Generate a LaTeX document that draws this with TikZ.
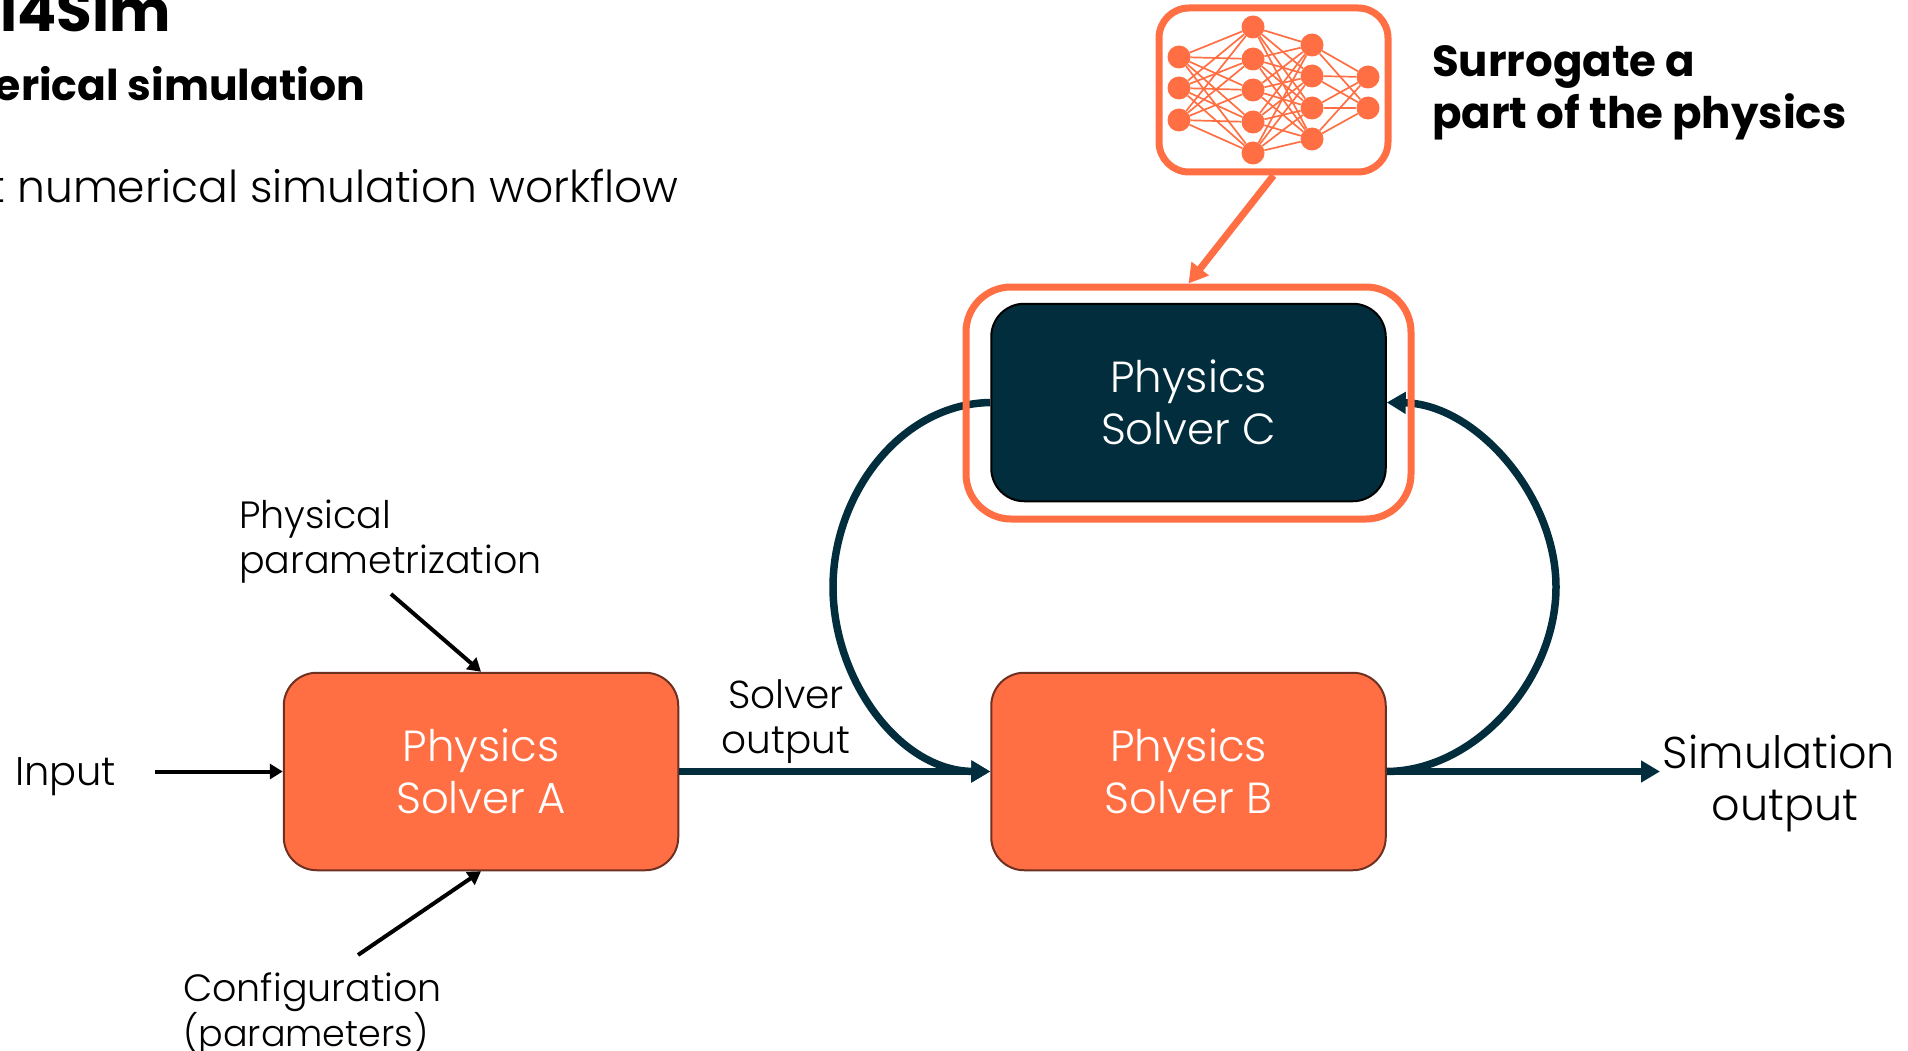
\documentclass[tikz,border=0pt]{standalone}
\usepackage{fontspec}
\usetikzlibrary{arrows.meta}
\setmainfont{Poppins Light}[BoldFont={Poppins Bold}]
\definecolor{coral}{HTML}{FF6F43}
\definecolor{deep}{HTML}{022D3D}
\definecolor{coraledge}{HTML}{6E3020}
\tikzset{
  solver/.style={rectangle,rounded corners=33pt,minimum width=394.5pt,minimum height=197.5pt,align=center,text=white,font=\fontsize{43.5}{52}\selectfont,line width=2pt,inner sep=0pt},
  lab/.style={align=left,font=\fontsize{38}{45}\selectfont,inner sep=0pt,text=black},
  frameline/.style={draw=coral,line width=7pt,rectangle,fill=none},
  neuron/.style={circle,fill=coral,minimum size=23pt,inner sep=0pt},
  syn/.style={draw=coral,line width=1.7pt},
  thick arrow/.style={draw=deep,line width=7.5pt,-{Triangle[length=19pt,width=21pt]}},
  thin arrow/.style={draw=black,line width=4pt,-{Triangle[length=13pt,width=15pt]}}
}
\begin{document}
\begin{tikzpicture}[x=1pt,y=-1pt]
\useasboundingbox (0,0) rectangle (1908,1051);
\clip (0,0) rectangle (1908,1051);
% headings
\node[anchor=base east,inner sep=0pt,font=\fontsize{58}{60}\selectfont\bfseries] (ttl) at (171,32) {I4Sim};
\node[anchor=base east,inner sep=0pt,font=\fontsize{42.5}{50}\selectfont\bfseries] (sub) at (365,101) {erical simulation};
\node[anchor=base east,inner sep=0pt,font=\fontsize{44}{50}\selectfont] (desc) at (679,203) {t numerical simulation workflow};
% solvers
\node[solver,fill=coral,draw=coraledge] (A) at (481,771.5) {Physics\\Solver A};
\node[solver,fill=coral,draw=coraledge] (B) at (1188.5,771.5) {Physics\\Solver B};
\node[solver,fill=deep,draw=black] (C) at (1188.5,402.5) {Physics\\Solver C};
% labels
\node[lab,anchor=north west] (phys) at (239,500) {Physical\\parametrization};
\node[lab,anchor=west,font=\fontsize{40}{45}\selectfont] (inp) at (15,777) {Input};
\node[lab,align=center,font=\fontsize{39}{45}\selectfont] (sout) at (786,722) {Solver\\output};
\node[lab,anchor=north west] (conf) at (183,973) {Configuration\\{\fontsize{36.5}{45}\selectfont (parameters)}};
\node[lab,align=center,font=\fontsize{44.5}{52}\selectfont] (simo) at (1779,784) {Simulation\\\hspace*{12pt}output};
\node[lab,anchor=west,font=\fontsize{43.5}{52}\selectfont\bfseries] (sur) at (1432,93) {Surrogate a\\part of the physics};
% free ends
\coordinate (inpS) at (155,771.5);
\coordinate (physS) at (391,594);
\coordinate (confS) at (358,955);
\coordinate (outE) at (1660,771.5);
% connectors
\draw[thin arrow] (inpS) -- (A.west);
\draw[thin arrow] (physS) -- (A.north);
\draw[thin arrow] (confS) -- (A.south);
\draw[thick arrow] (A.east) -- (B.west);
\draw[thick arrow] (B.east) -- (outE);
\draw[thick arrow] (C.west) .. controls (900,404) and (833,495) .. (833,587) .. controls (833,680) and (900,771) .. (B.west);
\draw[thick arrow] (B.east) .. controls (1475,771) and (1556,680) .. (1556,587) .. controls (1556,495) and (1475,404) .. (C.east);
% surrogate frame
\node[frameline,rounded corners=45pt,minimum width=445pt,minimum height=232pt] (frame) at (1188.5,403) {};
% network
\node[frameline,rounded corners=30pt,minimum width=229pt,minimum height=164pt] (nn) at (1273.5,90) {};
\foreach \n/\x/\y in {a1/1179/57,a2/1179/88,a3/1179/120,
  b1/1253/27,b2/1253/59,b3/1253/90,b4/1253/122,b5/1253/153,
  c1/1312/45,c2/1312/76,c3/1312/108,c4/1312/139,
  d1/1368/77,d2/1368/108}
  \node[neuron] (\n) at (\x,\y) {};
\foreach \i in {a1,a2,a3} \foreach \j in {b1,b2,b3,b4,b5} \draw[syn] (\i) -- (\j);
\foreach \i in {b1,b2,b3,b4,b5} \foreach \j in {c1,c2,c3,c4} \draw[syn] (\i) -- (\j);
\foreach \i in {c1,c2,c3,c4} \foreach \j in {d1,d2} \draw[syn] (\i) -- (\j);
\draw[draw=coral,line width=7pt,-{Triangle[length=19pt,width=21pt]}] (nn.south) -- (frame.north);
\end{tikzpicture}
\end{document}
